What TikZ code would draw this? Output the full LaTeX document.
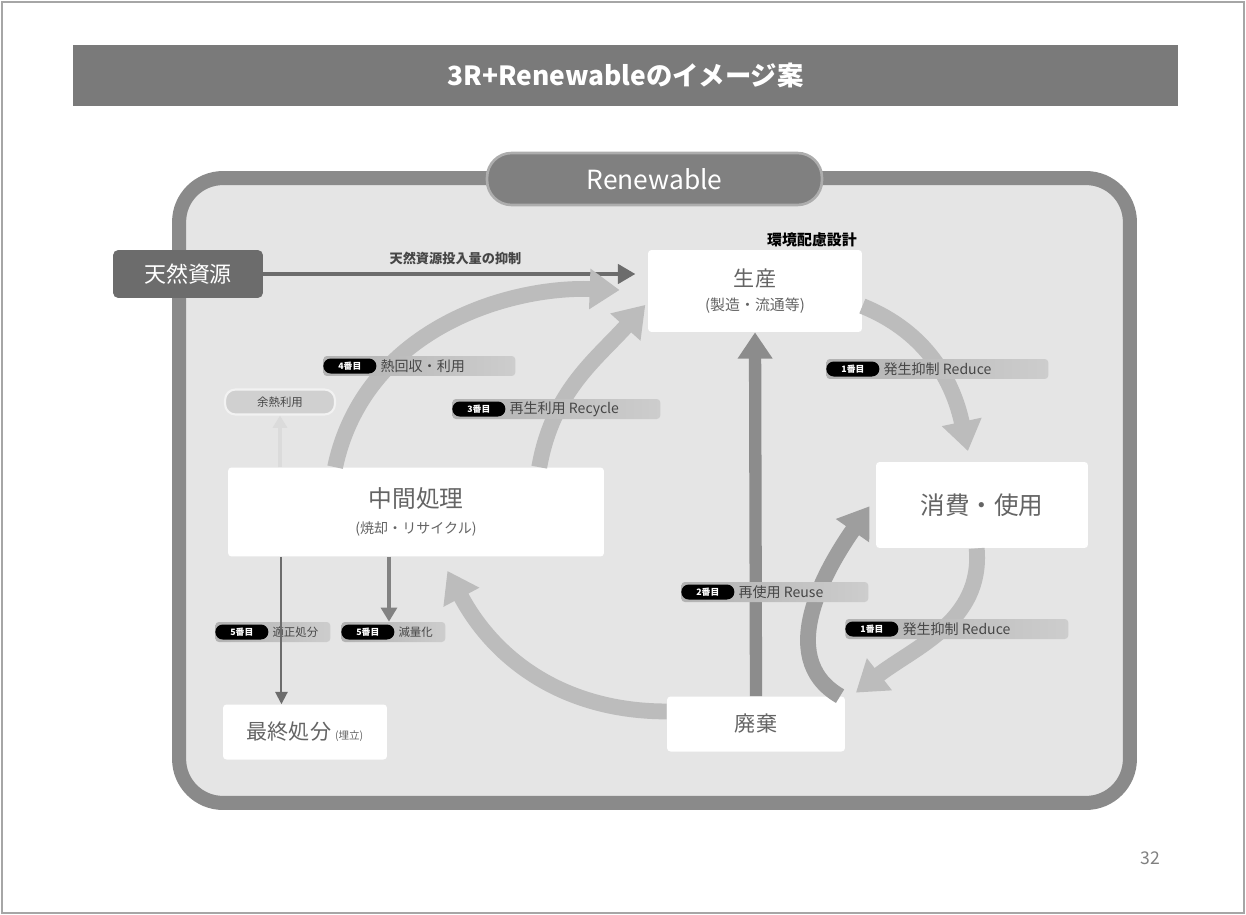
\documentclass[tikz,border=0pt]{standalone}
\usepackage{fontspec}
\setmainfont{Noto Sans CJK JP}
\usetikzlibrary{arrows.meta}

\definecolor{titlegray}{RGB}{122,122,122}
\definecolor{framegray}{RGB}{138,138,138}
\definecolor{panelfill}{RGB}{229,229,229}
\definecolor{tabgray}{RGB}{128,128,128}
\definecolor{darkbox}{RGB}{108,108,108}
\definecolor{flow}{RGB}{188,188,188}
\definecolor{reuseflow}{RGB}{158,158,158}
\definecolor{upflow}{RGB}{140,140,140}
\definecolor{tagleft}{RGB}{178,178,178}
\definecolor{tagright}{RGB}{205,205,205}
\definecolor{pillfill}{RGB}{208,208,208}
\definecolor{boxtext}{RGB}{100,100,100}
\definecolor{tagtext}{RGB}{70,70,70}

\newcommand\fs[1]{\fontsize{#1}{#1}\selectfont}

% one ranked step: grey strip, black rank pill, caption
\newcommand\rankedstep[7]{% name, x, y, strip width, rank, caption, caption size
  \node[tagstrip, minimum width=#4cm, anchor=west] (#1) at (#2,#3) {};
  \node[rankpill, anchor=west] (#1r) at (#1.west) {#5};
  \node[tagcaption, anchor=west, font=\fs{#7}] (#1t) at (#1r.east) {#6};
}

\tikzset{
  titlebar/.style={fill=titlegray, text=white, font=\bfseries\fs{15},
    minimum width=22.1cm, minimum height=1.22cm, inner sep=0},
  panelbox/.style={draw=framegray, line width=8pt, fill=panelfill,
    rounded corners=25pt, minimum width=19.02cm, minimum height=12.5cm},
  tabbox/.style={fill=tabgray, draw=framegray!70, line width=1.5pt,
    rounded corners=14pt, text=white, font=\fs{15},
    minimum width=6.7cm, minimum height=1.04cm},
  sourcebox/.style={fill=darkbox, text=white, font=\fs{12.5},
    rounded corners=3pt, minimum width=3cm, minimum height=0.96cm},
  stagebox/.style={fill=white, text=boxtext, rounded corners=2pt,
    align=center, inner sep=0},
  softpill/.style={fill=pillfill, draw=white!90!gray, line width=1.2pt,
    text=tagtext, font=\fs{6.5},
    rounded corners=6pt, minimum width=2.2cm, minimum height=0.5cm},
  tagstrip/.style={left color=tagleft, right color=tagright,
    rounded corners=2pt, minimum height=0.4cm, inner sep=0},
  rankpill/.style={fill=black, text=white, font=\bfseries\fs{5},
    rounded corners=4.2pt, minimum width=1.06cm, minimum height=0.3cm, inner sep=0},
  tagcaption/.style={text=tagtext, inner sep=2pt},
  bigflow/.style={draw=flow, line width=9pt,
    -{Triangle[length=17pt,width=22pt]}},
  reuseflow/.style={draw=reuseflow, line width=9pt,
    -{Triangle[length=17pt,width=22pt]}},
  upflow/.style={draw=upflow, line width=7pt,
    -{Triangle[length=15pt,width=19pt]}},
  thinflow/.style={draw=darkbox, line width=1.1pt,
    -{Triangle[length=7pt,width=7pt]}},
  midflow/.style={draw=darkbox!85, line width=2.3pt,
    -{Triangle[length=8pt,width=9pt]}},
  paleflow/.style={draw=white!72!gray, line width=2pt,
    -{Triangle[length=7pt,width=8pt]}},
}

\begin{document}
\begin{tikzpicture}[x=0.02cm, y=-0.02cm]
\useasboundingbox (0,0) rectangle (1246,915);
\draw[gray!70, line width=0.6pt] (2,2) rectangle (1244,913);

% heading
\node[titlebar] (title) at (625.5,75.5) {3R+Renewableのイメージ案};

% panel with its tab
\node[panelbox] (panel) at (654.5,490.5) {};
\node[tabbox] (tab) at (654.5,179) {Renewable};

% stages
\node[sourcebox] (tennen) at (188,274) {天然資源};
\node[stagebox, minimum width=4.28cm, minimum height=1.64cm] (seisan) at (755,291)
  {{\fs{12}生産}\\[2pt]{\fs{8.5}(製造・流通等)}};
\node[stagebox, minimum width=4.24cm, minimum height=1.72cm, font=\fs{14}] (shohi) at (982,505) {消費・使用};
\node[stagebox, minimum width=7.52cm, minimum height=1.78cm] (chukan) at (416,512)
  {{\fs{13.5}中間処理}\\[3pt]{\fs{8}(焼却・リサイクル)}};
\node[stagebox, minimum width=3.56cm, minimum height=1.1cm, font=\fs{12}] (haiki) at (756,724) {廃棄};
\node[stagebox, minimum width=3.28cm, minimum height=1.1cm] (saishu) at (305,732)
  {{\fs{12}最終処分} {\fs{6}(埋立)}};
\node[softpill] (yonetsu) at (280,402) {余熱利用};

\node[font=\bfseries\fs{8.5}, text=black] (design) at (812,240) {環境配慮設計};

% resource input
\draw[darkbox, line width=2.2pt, -{Triangle[length=10pt,width=11pt]}, shorten >=7pt]
  (tennen.east) -- node[above=1pt, font=\bfseries\fs{7.5}, text=tagtext] (inputlabel) {天然資源投入量の抑制} (tennen.east -| seisan.west);

% circulation arrows
\draw[bigflow] (seisan.-8) to[out=-22, in=102] ([yshift=6pt]shohi.108);
\draw[bigflow] (shohi.-97) to[out=-85, in=38] ([xshift=6pt,yshift=2pt]haiki.north east);
\draw[bigflow] (haiki.172) to[out=180, in=-62] ([yshift=-8pt]chukan.-55);
\draw[bigflow, shorten >=2pt] (chukan.20) to[out=80, in=-132] (seisan.186);
\draw[bigflow, shorten >=16pt] (chukan.151) to[out=78, in=178] (seisan.180);
\draw[reuseflow, shorten >=6pt] ([xshift=-3pt]haiki.north east) to[out=150, in=-125] (shohi.176);
\draw[upflow] (haiki.north) -- (seisan.south);

% ranked steps
\rankedstep{heat}{323}{366}{3.84}{4番目}{熱回収・利用}{8}
\rankedstep{recycle}{452}{409}{4.16}{3番目}{再生利用 Recycle}{8}
\rankedstep{reducea}{826}{369}{4.44}{1番目}{発生抑制 Reduce}{8}
\rankedstep{reuse}{681}{592}{3.74}{2番目}{再使用 Reuse}{8}
\rankedstep{reduceb}{845}{629}{4.46}{1番目}{発生抑制 Reduce}{8}
\rankedstep{landfill}{215}{632}{2.3}{5番目}{適正処分}{6.5}
\rankedstep{volume}{341}{632}{2.08}{5番目}{減量化}{6.5}

% outputs of intermediate treatment
\draw[thinflow] ([xshift=30.6pt]chukan.south west) -- ([xshift=30.6pt]chukan.south west |- saishu.north);
\draw[midflow] ([xshift=91.8pt]chukan.south west) -- ([xshift=91.8pt]chukan.south west |- volume.north);
\draw[paleflow] (yonetsu.south |- chukan.north) -- (yonetsu.south);

% page number
\node[text=gray, font=\fs{10}] (page) at (1150,858) {32};
\end{tikzpicture}
\end{document}
